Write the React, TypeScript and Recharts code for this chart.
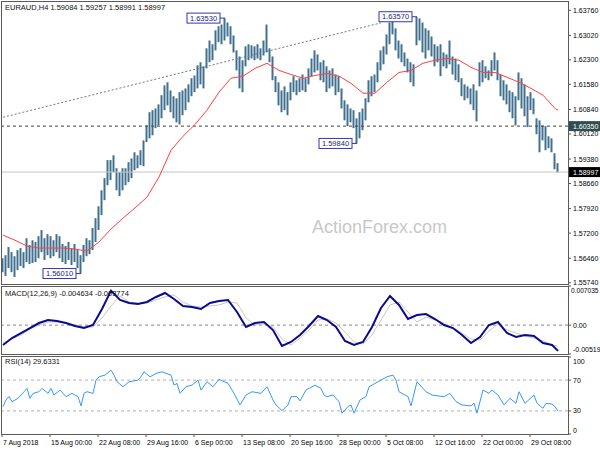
import React from 'react';
import { ComposedChart, LineChart, Line, Bar, XAxis, YAxis, ReferenceLine, ReferenceDot } from 'recharts';

const FONT = '"Liberation Sans", Arial, sans-serif';

const symbolTitle = 'EURAUD,H4  1.59084 1.59257 1.58991 1.58997';
const macdTitle = 'MACD(12,26,9) -0.004634 -0.003774';
const rsiTitle = 'RSI(14) 29.6331';
const watermark = 'ActionForex.com';

const dateLabels = ['7 Aug 2018', '15 Aug 00:00', '22 Aug 08:00', '29 Aug 16:00', '6 Sep 00:00', '13 Sep 08:00', '20 Sep 16:00', '28 Sep 00:00', '5 Oct 08:00', '12 Oct 16:00', '22 Oct 00:00', '29 Oct 08:00'];
const BARS_PER_LABEL = 16;

const priceTicks = [1.5574, 1.5646, 1.572, 1.5792, 1.5866, 1.5938, 1.6012, 1.6084, 1.6158, 1.623, 1.6302, 1.6376];
const macdTicks = [-0.00519, 0, 0.007035];
const macdTickLabels = ['-0.00519', '0.00', '0.007035'];
const rsiTicks = [0, 30, 70, 100];

const highs = [
  1.5646, 1.5655, 1.5679, 1.5664, 1.5652, 1.5670, 1.5676, 1.5664, 1.5705, 1.5685,
  1.5699, 1.5694, 1.5711, 1.5729, 1.5705, 1.5717, 1.5711, 1.5699, 1.5717, 1.5711,
  1.5688, 1.5682, 1.5694, 1.5676, 1.5688, 1.5670, 1.5655, 1.5685, 1.5705, 1.5699,
  1.5735, 1.5764, 1.5799, 1.5846, 1.5882, 1.5935, 1.5935, 1.5949, 1.5911, 1.5899,
  1.5911, 1.5911, 1.5929, 1.5940, 1.5958, 1.5949, 1.5964, 1.5993, 1.6037, 1.6076,
  1.6082, 1.6087, 1.6099, 1.6126, 1.6155, 1.6164, 1.6140, 1.6123, 1.6117, 1.6135,
  1.6140, 1.6146, 1.6158, 1.6176, 1.6184, 1.6214, 1.6223, 1.6211, 1.6264, 1.6287,
  1.6276, 1.6317, 1.6329, 1.6334, 1.6353, 1.6340, 1.6329, 1.6302, 1.6258, 1.6240,
  1.6229, 1.6270, 1.6276, 1.6273, 1.6270, 1.6276, 1.6264, 1.6287, 1.6334, 1.6264,
  1.6240, 1.6182, 1.6164, 1.6140, 1.6152, 1.6135, 1.6164, 1.6182, 1.6170, 1.6176,
  1.6187, 1.6176, 1.6205, 1.6234, 1.6258, 1.6246, 1.6223, 1.6229, 1.6211, 1.6199,
  1.6205, 1.6187, 1.6182, 1.6146, 1.6111, 1.6099, 1.6087, 1.6082, 1.6058, 1.6076,
  1.6087, 1.6117, 1.6170, 1.6182, 1.6187, 1.6223, 1.6258, 1.6270, 1.6305, 1.6340,
  1.6349, 1.6323, 1.6287, 1.6276, 1.6252, 1.6234, 1.6223, 1.6217, 1.6357, 1.6352,
  1.6340, 1.6323, 1.6317, 1.6299, 1.6276, 1.6270, 1.6276, 1.6252, 1.6246, 1.6287,
  1.6240, 1.6234, 1.6217, 1.6176, 1.6158, 1.6152, 1.6146, 1.6158, 1.6140, 1.6223,
  1.6229, 1.6211, 1.6199, 1.6229, 1.6252, 1.6229, 1.6187, 1.6170, 1.6158, 1.6140,
  1.6135, 1.6123, 1.6193, 1.6176, 1.6158, 1.6123, 1.6135, 1.6117, 1.6058, 1.6052,
  1.6037, 1.6035, 1.6005, 1.5999, 1.5955, 1.5926,
];

const lows = [
  1.5605, 1.5594, 1.5617, 1.5605, 1.5591, 1.5611, 1.5623, 1.5617, 1.5635, 1.5629,
  1.5632, 1.5635, 1.5646, 1.5664, 1.5641, 1.5655, 1.5646, 1.5652, 1.5664, 1.5646,
  1.5635, 1.5629, 1.5641, 1.5626, 1.5635, 1.5617, 1.5601, 1.5635, 1.5652, 1.5658,
  1.5670, 1.5694, 1.5729, 1.5773, 1.5817, 1.5861, 1.5876, 1.5899, 1.5846, 1.5829,
  1.5846, 1.5861, 1.5870, 1.5882, 1.5905, 1.5911, 1.5920, 1.5917, 1.5988, 1.5999,
  1.6008, 1.6029, 1.6037, 1.6058, 1.6082, 1.6096, 1.6076, 1.6058, 1.6046, 1.6040,
  1.6067, 1.6082, 1.6105, 1.6123, 1.6135, 1.6146, 1.6158, 1.6146, 1.6205, 1.6223,
  1.6229, 1.6258, 1.6282, 1.6276, 1.6287, 1.6299, 1.6276, 1.6252, 1.6199, 1.6146,
  1.6135, 1.6211, 1.6229, 1.6234, 1.6229, 1.6234, 1.6229, 1.6243, 1.6252, 1.6223,
  1.6170, 1.6135, 1.6096, 1.6076, 1.6082, 1.6067, 1.6111, 1.6135, 1.6126, 1.6135,
  1.6140, 1.6135, 1.6158, 1.6182, 1.6193, 1.6199, 1.6170, 1.6164, 1.6135, 1.6146,
  1.6152, 1.6126, 1.6135, 1.6087, 1.6052, 1.6035, 1.6046, 1.6029, 1.5984, 1.5999,
  1.6023, 1.6052, 1.6105, 1.6123, 1.6135, 1.6164, 1.6199, 1.6217, 1.6246, 1.6276,
  1.6305, 1.6258, 1.6234, 1.6223, 1.6211, 1.6193, 1.6164, 1.6152, 1.6273, 1.6287,
  1.6252, 1.6234, 1.6258, 1.6240, 1.6211, 1.6223, 1.6182, 1.6211, 1.6205, 1.6217,
  1.6187, 1.6170, 1.6164, 1.6123, 1.6111, 1.6117, 1.6099, 1.6082, 1.6049, 1.6152,
  1.6164, 1.6176, 1.6170, 1.6182, 1.6199, 1.6170, 1.6123, 1.6111, 1.6099, 1.6076,
  1.6058, 1.6037, 1.6111, 1.6087, 1.6064, 1.6032, 1.6082, 1.6070, 1.6011, 1.5958,
  1.5993, 1.5964, 1.5970, 1.5958, 1.5908, 1.5899,
];

// moving average, read every 4th bar (plus the last bar)
const maValues = [
  1.5714, 1.5699, 1.5682, 1.5676, 1.5676, 1.5676, 1.5673, 1.5667, 1.5694, 1.5732,
  1.5764, 1.5794, 1.5826, 1.5885, 1.5964, 1.6005, 1.6040, 1.6082, 1.6135, 1.6176,
  1.6182, 1.6205, 1.6220, 1.6199, 1.6187, 1.6176, 1.6184, 1.6190, 1.6182, 1.6161,
  1.6132, 1.6132, 1.6164, 1.6193, 1.6199, 1.6220, 1.6229, 1.6234, 1.6229, 1.6208,
  1.6193, 1.6193, 1.6179, 1.6164, 1.6146, 1.6126, 1.6087, 1.6082,
];

// MACD and signal, read every 3rd bar (plus the last bar)
const macdValues = [
  -0.00357, -0.00232, -0.00142, -0.00052, 0.00038, 0.00092, 0.00074, 0.00038, -0.00016, -0.00052,
  0.00002, 0.0029, 0.0062, 0.00452, 0.00398, 0.0038, 0.00416, 0.00506, 0.00578, 0.0047,
  0.00344, 0.00326, 0.0029, 0.00398, 0.00434, 0.00452, 0.00236, -0.00034, 0.00038, 0.00056,
  -0.00088, -0.00375, -0.00303, -0.00178, -0.00016, 0.00164, 0.00092, -0.00034, -0.00285, -0.00357,
  -0.00303, -0.00034, 0.00308, 0.00524, 0.00362, 0.0011, 0.00182, 0.002, 0.0011, 0.00002,
  -0.00052, -0.00178, -0.00321, -0.00214, 0.00002, 0.00056, -0.00142, -0.00214, -0.00178, -0.00196,
  -0.00321, -0.00357, -0.00463,
];
const signalValues = [
  -0.00321, -0.00249, -0.00178, -0.0007, 0.00002, 0.00056, 0.00056, 0.00038, 0.00002, -0.00034,
  -0.00034, 0.00128, 0.00344, 0.00524, 0.00416, 0.00398, 0.00398, 0.00452, 0.00506, 0.00542,
  0.00416, 0.00344, 0.00326, 0.00344, 0.00362, 0.00416, 0.00398, 0.00128, 0.00002, 0.0002,
  -0.00034, -0.00249, -0.00357, -0.00232, -0.00088, 0.00092, 0.0011, 0.00038, -0.00124, -0.00303,
  -0.00339, -0.00178, 0.00092, 0.00362, 0.00416, 0.00236, 0.00056, 0.00146, 0.00092, 0.00038,
  -0.00052, -0.00142, -0.00249, -0.00267, -0.00106, 0.0002, -0.00088, -0.00142, -0.00196, -0.00232,
  -0.00285, -0.00357, -0.00377,
];

const rsiBars = [
  0, 1, 2, 3, 5, 7, 8, 9, 10, 12, 13, 15, 16, 17, 19, 21, 23, 25, 26, 27,
  28, 30, 31, 32, 34, 36, 37, 38, 40, 42, 45, 46, 47, 49, 51, 53, 56, 57, 58, 59,
  61, 63, 65, 66, 68, 70, 72, 75, 77, 79, 81, 83, 86, 88, 90, 91, 93, 95, 96, 98,
  99, 101, 104, 106, 107, 108, 110, 112, 113, 115, 116, 117, 119, 121, 122, 124, 126, 128, 130, 131,
  132, 135, 136, 138, 140, 141, 143, 147, 149, 151, 153, 156, 157, 158, 160, 162, 163, 165, 167, 169,
  171, 172, 174, 177, 178, 180, 181, 183, 184, 185,
];
const rsiValues = [
  35.6, 44.2, 48.5, 42.0, 46.3, 54.9, 59.2, 46.3, 52.8, 54.9, 59.2, 52.8, 59.2, 50.6, 57.1, 48.5, 52.8, 48.5, 36.5, 52.8,
  54.9, 52.8, 70.0, 74.3, 76.5, 82.9, 76.5, 67.8, 61.4, 67.8, 70.0, 74.3, 80.8, 74.3, 78.6, 80.8, 76.5, 63.5, 65.7, 52.8,
  61.4, 63.5, 70.0, 57.1, 67.8, 61.4, 70.9, 65.7, 52.8, 37.7, 50.6, 54.9, 52.8, 61.4, 44.2, 37.7, 30.4, 37.7, 48.5, 48.5,
  43.0, 57.1, 63.5, 59.2, 50.6, 48.5, 50.6, 42.0, 27.0, 35.6, 37.7, 27.0, 44.2, 48.5, 61.4, 65.7, 70.0, 74.3, 76.5, 70.0,
  54.9, 48.5, 36.5, 67.8, 59.2, 54.9, 50.6, 48.5, 52.8, 42.0, 37.7, 36.5, 39.8, 27.0, 57.1, 52.8, 57.1, 50.6, 37.7, 46.3,
  39.8, 54.9, 39.8, 50.6, 39.8, 33.4, 39.8, 38.9, 35.6, 29.6,
];

const swingLabels = ['1.63530', '1.63570', '1.59840', '1.56010'];
const swingBars = [74, 138, 118, 26];
const swingPrices = [1.6353, 1.6357, 1.5984, 1.5601];

const trendBars = [0, 126];
const trendPrices = [1.6061, 1.6339];

const supportLevel = 1.6035;
const lastPrice = 1.58997;

const LAST = highs.length - 1;
const X_DOMAIN: [number, number] = [-1 / 3, 188 + 1 / 3];
const PRICE_DOMAIN: [number, number] = [1.55702, 1.64004];

const priceRows = highs.map((h, i) => ({
  i,
  range: [lows[i], h],
  ma: i % 4 === 0 ? maValues[i / 4] : i === LAST ? maValues[maValues.length - 1] : undefined,
}));
const macdRows = macdValues.map((v, k) => ({ i: k < macdValues.length - 1 ? k * 3 : LAST, macd: v, signal: signalValues[k] }));
const rsiRows = rsiBars.map((b, k) => ({ i: b, rsi: rsiValues[k] }));
const dateTicks = dateLabels.map((_, k) => -1 / 3 + k * BARS_PER_LABEL);

const makeSwing = (text: string) => (p: any) => {
  const { cx, cy } = p;
  const w = 33, h = 10, gap = 5;
  const bx = cx - gap - w;
  return (
    <g>
      <line x1={bx + w} y1={cy} x2={cx} y2={cy} stroke="#3535b5" strokeWidth={1} />
      <rect x={bx} y={cy - h / 2} width={w} height={h} fill="#ffffff" stroke="#3535b5" strokeWidth={1} />
      <text x={bx + w / 2} y={cy + 2.7} textAnchor="middle" fontSize={7.5} fill="#1c1c80" fontFamily={FONT}>{text}</text>
    </g>
  );
};

const makeTag = (text: string, bg: string) => (p: any) => {
  const { cx, cy } = p;
  return (
    <g>
      <rect x={cx + 1} y={cy - 5} width={32} height={10} fill={bg} />
      <text x={cx + 5} y={cy + 2.6} fontSize={7} fill="#ffffff" fontFamily={FONT}>{text}</text>
    </g>
  );
};

const MacdTick = (p: any) => {
  const { x, y, payload } = p;
  const idx = macdTicks.indexOf(payload.value);
  const dy = idx === 2 ? 7 : idx === 0 ? -2 : 2.5;
  const dx = idx === 2 ? -2 : 0;
  return <text x={x + dx} y={y + dy} fontSize={idx === 2 ? 6.6 : 7} fill="#000" fontFamily={FONT}>{macdTickLabels[idx]}</text>;
};

const RsiTick = (p: any) => {
  const { x, y, payload } = p;
  const v = payload.value;
  const dy = v === 100 ? 6.5 : v === 0 ? -1.5 : 2.5;
  return <text x={x} y={y + dy} fontSize={7} fill="#000" fontFamily={FONT}>{String(v)}</text>;
};

const DateTick = (p: any) => {
  const { x, y, payload } = p;
  const k = Math.round((payload.value + 1 / 3) / BARS_PER_LABEL);
  return <text x={x + 1} y={y + 5.5} fontSize={7} fill="#000" fontFamily={FONT}>{dateLabels[k]}</text>;
};

const axisTick = { fontSize: 7, fill: '#000', fontFamily: FONT };

export default function App() {
  return (
    <div style={{ position: 'absolute', left: 0, top: 0, width: 600, height: 450, background: '#fff', overflow: 'hidden' }}>
      <div style={{ position: 'absolute', left: 0, top: 0 }}>
        <ComposedChart width={600} height={286} data={priceRows} margin={{ top: 2, right: 0, bottom: 2, left: 2 }}>
          <XAxis type="number" dataKey="i" domain={X_DOMAIN} hide allowDataOverflow />
          <YAxis
            orientation="right"
            width={32}
            domain={PRICE_DOMAIN}
            ticks={priceTicks}
            allowDataOverflow
            axisLine={false}
            tickSize={3}
            tickMargin={2}
            tickLine={{ stroke: '#555' }}
            tick={axisTick}
            tickFormatter={(v: number) => v.toFixed(5)}
            interval={0}
          />
          <ReferenceLine y={lastPrice} stroke="#c4c4c4" strokeWidth={1} />
          <ReferenceLine y={supportLevel} stroke="#404040" strokeDasharray="3 3" strokeWidth={1} />
          <ReferenceLine
            segment={[{ x: trendBars[0], y: trendPrices[0] }, { x: trendBars[1], y: trendPrices[1] }]}
            stroke="#6a7d7d"
            strokeDasharray="2 2"
            strokeWidth={1}
          />
          <Bar dataKey="range" barSize={2} fill="#41708e" isAnimationActive={false} />
          <Line type="linear" dataKey="ma" connectNulls dot={false} stroke="#ff4040" strokeWidth={1} isAnimationActive={false} />
          {swingLabels.map((t, k) => (
            <ReferenceDot key={t} x={swingBars[k]} y={swingPrices[k]} r={0} shape={makeSwing(t)} />
          ))}
          <ReferenceDot x={X_DOMAIN[1]} y={supportLevel} r={0} shape={makeTag(supportLevel.toFixed(5), '#2f4f4f')} />
          <ReferenceDot x={X_DOMAIN[1]} y={lastPrice} r={0} shape={makeTag(lastPrice.toFixed(5), '#000000')} />
        </ComposedChart>
      </div>

      <div style={{ position: 'absolute', left: 0, top: 284 }}>
        <LineChart width={600} height={72} data={macdRows} margin={{ top: 2, right: 0, bottom: 2, left: 2 }}>
          <XAxis type="number" dataKey="i" domain={X_DOMAIN} hide allowDataOverflow />
          <YAxis
            orientation="right"
            width={32}
            domain={[macdTicks[0], macdTicks[2]]}
            ticks={macdTicks}
            allowDataOverflow
            axisLine={false}
            tickSize={3}
            tickMargin={2}
            tickLine={{ stroke: '#555' }}
            tick={<MacdTick />}
            interval={0}
          />
          <ReferenceLine y={0} stroke="#8a8a8a" strokeDasharray="3 3" />
          <Line type="linear" dataKey="signal" dot={false} stroke="#c8c8c8" strokeWidth={1} isAnimationActive={false} />
          <Line type="linear" dataKey="macd" dot={false} stroke="#0a0a8c" strokeWidth={2} isAnimationActive={false} />
        </LineChart>
      </div>

      <div style={{ position: 'absolute', left: 0, top: 355 }}>
        <LineChart width={600} height={95} data={rsiRows} margin={{ top: 2, right: 0, bottom: 0, left: 2 }}>
          <XAxis
            type="number"
            dataKey="i"
            domain={X_DOMAIN}
            allowDataOverflow
            ticks={dateTicks}
            interval={0}
            height={16}
            axisLine={false}
            tickSize={3}
            tickMargin={2}
            tickLine={{ stroke: '#555' }}
            tick={<DateTick />}
          />
          <YAxis
            orientation="right"
            width={32}
            domain={[0, 100]}
            ticks={rsiTicks}
            allowDataOverflow
            axisLine={false}
            tickSize={3}
            tickMargin={2}
            tickLine={{ stroke: '#555' }}
            tick={<RsiTick />}
            interval={0}
          />
          <ReferenceLine y={70} stroke="#b0b0b0" strokeDasharray="3 3" />
          <ReferenceLine y={30} stroke="#b0b0b0" strokeDasharray="3 3" />
          <Line type="linear" dataKey="rsi" dot={false} stroke="#3399ff" strokeWidth={1} isAnimationActive={false} />
        </LineChart>
      </div>

      <svg width={600} height={450} style={{ position: 'absolute', left: 0, top: 0, pointerEvents: 'none' }}>
        <text x={312} y={233} fontSize={18} fill="#c8c8c8" fontFamily={FONT}>{watermark}</text>
        <text x={5} y={10} fontSize={7.5} fill="#111" fontFamily={FONT}>{symbolTitle}</text>
        <text x={5} y={296} fontSize={7.5} fill="#111" fontFamily={FONT}>{macdTitle}</text>
        <text x={5} y={364} fontSize={7.5} fill="#111" fontFamily={FONT}>{rsiTitle}</text>
        <rect x={1.5} y={1.5} width={567} height={283} fill="none" stroke="#5a5a5a" strokeWidth={1} />
        <rect x={1.5} y={286.5} width={567} height={68} fill="none" stroke="#5a5a5a" strokeWidth={1} />
        <rect x={1.5} y={356.5} width={567} height={78} fill="none" stroke="#5a5a5a" strokeWidth={1} />
      </svg>
    </div>
  );
}
